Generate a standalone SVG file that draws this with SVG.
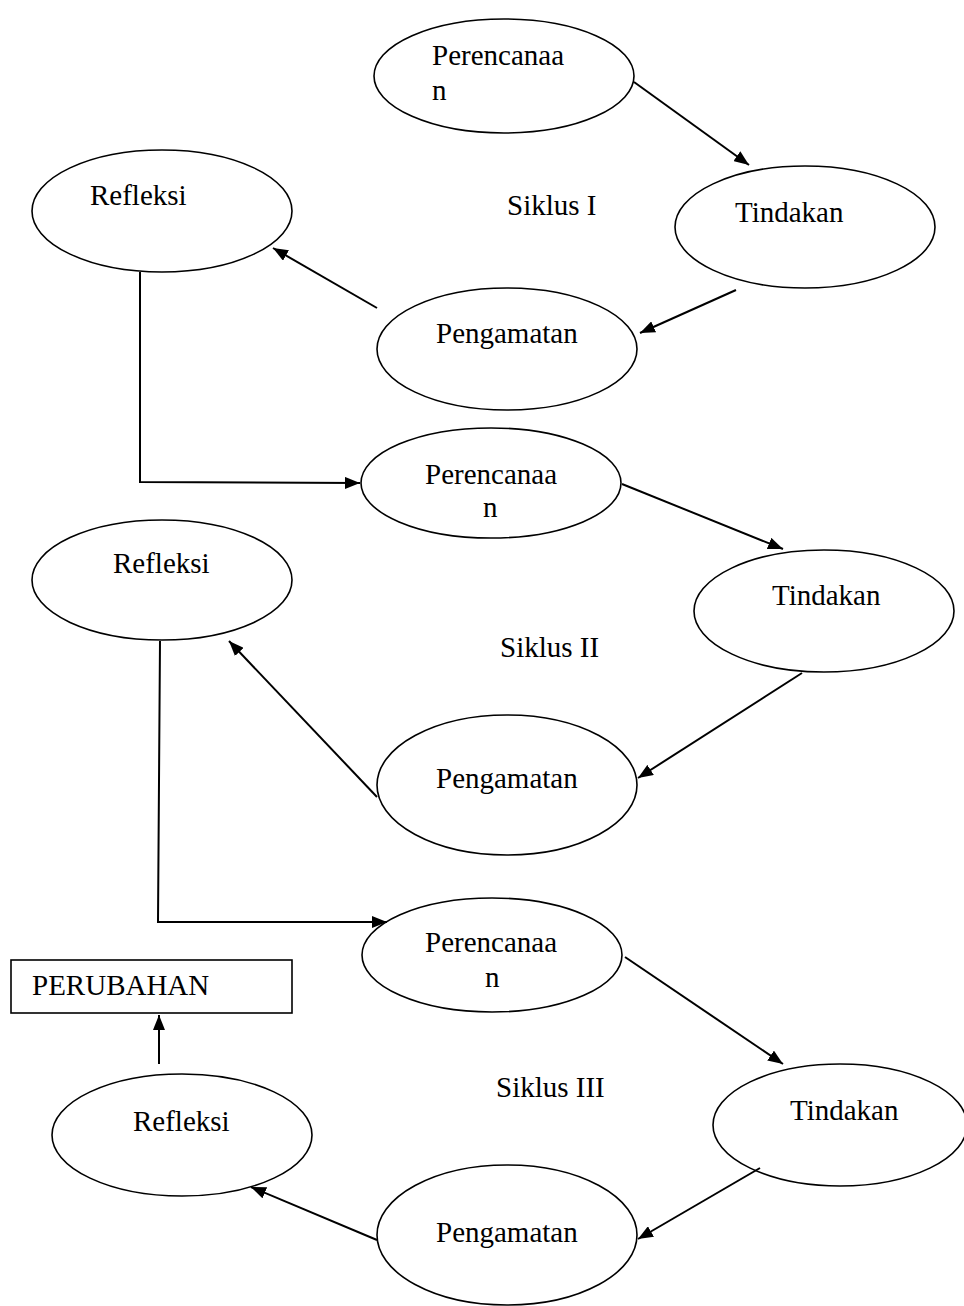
<svg xmlns="http://www.w3.org/2000/svg" width="964" height="1306" viewBox="0 0 964 1306">
<style>
.n ellipse,.n rect{fill:#fff;stroke:#000;stroke-width:1.6}
text{font-family:"Liberation Serif","Times New Roman",serif;font-size:29px;fill:#000}
.c line,.c polyline{stroke:#000;stroke-width:2;fill:none}
.a{marker-end:url(#ah)}
</style>
<defs>
<marker id="ah" markerUnits="userSpaceOnUse" markerWidth="16" markerHeight="12" refX="15" refY="6" orient="auto">
<path d="M0,0 L15,6 L0,12 z" fill="#000"/>
</marker>
</defs>
<rect width="964" height="1306" fill="#fff"/>
<g id="p1" class="n"><ellipse cx="504" cy="76" rx="130" ry="57"/><text x="432" y="65">Perencanaa</text><text x="432" y="100">n</text></g>
<g id="t1" class="n"><ellipse cx="805" cy="227" rx="130" ry="61"/><text x="735" y="222">Tindakan</text></g>
<g id="g1" class="n"><ellipse cx="507" cy="349" rx="130" ry="61"/><text x="436" y="343">Pengamatan</text></g>
<g id="r1" class="n"><ellipse cx="162" cy="211" rx="130" ry="61"/><text x="90" y="205">Refleksi</text></g>
<g id="s1"><text x="507" y="215">Siklus I</text></g>
<g id="p2" class="n"><ellipse cx="491" cy="483" rx="130" ry="55"/><text x="425" y="484">Perencanaa</text><text x="483" y="517">n</text></g>
<g id="t2" class="n"><ellipse cx="824" cy="611" rx="130" ry="61"/><text x="772" y="605">Tindakan</text></g>
<g id="g2" class="n"><ellipse cx="507" cy="785" rx="130" ry="70"/><text x="436" y="788">Pengamatan</text></g>
<g id="r2" class="n"><ellipse cx="162" cy="580" rx="130" ry="60"/><text x="113" y="573">Refleksi</text></g>
<g id="s2"><text x="500" y="657">Siklus II</text></g>
<g id="p3" class="n"><ellipse cx="492" cy="955" rx="130" ry="57"/><text x="425" y="952">Perencanaa</text><text x="485" y="987">n</text></g>
<g id="t3" class="n"><ellipse cx="840" cy="1125" rx="127" ry="61"/><text x="790" y="1120">Tindakan</text></g>
<g id="g3" class="n"><ellipse cx="507" cy="1235" rx="130" ry="70"/><text x="436" y="1242">Pengamatan</text></g>
<g id="r3" class="n"><ellipse cx="182" cy="1135" rx="130" ry="61"/><text x="133" y="1131">Refleksi</text></g>
<g id="s3"><text x="496" y="1097">Siklus III</text></g>
<g id="box" class="n"><rect x="11" y="960" width="281" height="53"/><text x="32" y="995">PERUBAHAN</text></g>
<g id="connectors" class="c">
<line class="a" x1="634" y1="82" x2="749" y2="165"/>
<line class="a" x1="736" y1="290" x2="640" y2="333"/>
<line class="a" x1="377" y1="308" x2="273" y2="248"/>
<polyline class="a" points="140,272 140,482 360,483"/>
<line class="a" x1="622" y1="484" x2="783" y2="549"/>
<line class="a" x1="802" y1="673" x2="638" y2="778"/>
<line class="a" x1="377" y1="797" x2="229" y2="641"/>
<polyline class="a" points="160,641 158,922 387,922"/>
<line class="a" x1="625" y1="957" x2="783" y2="1064"/>
<line class="a" x1="760" y1="1168" x2="638" y2="1239"/>
<line class="a" x1="377" y1="1240" x2="251" y2="1187"/>
<line class="a" x1="159" y1="1064" x2="159" y2="1015"/>
</g>
</svg>
